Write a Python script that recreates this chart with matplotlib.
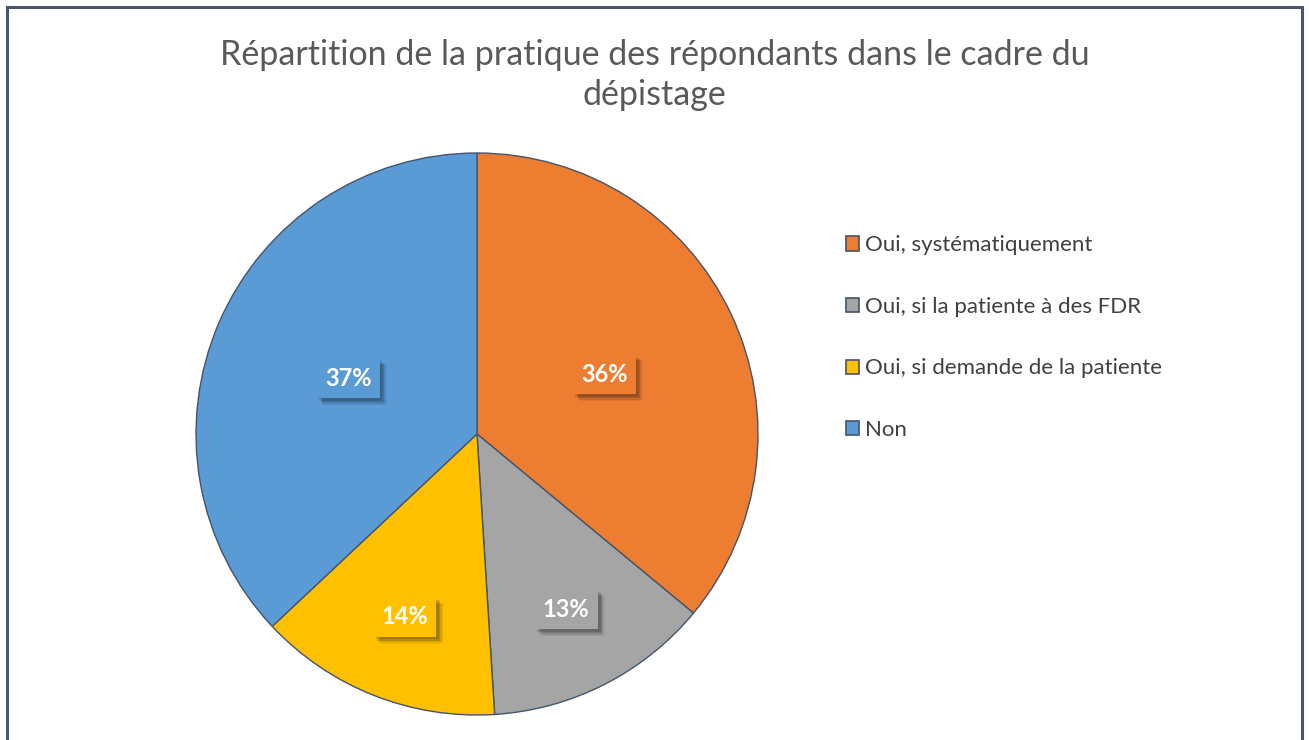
import numpy as np
import matplotlib
matplotlib.use('Agg')
import matplotlib.pyplot as plt
import matplotlib.patheffects as pe
from matplotlib.patches import Rectangle

plt.rcParams['font.family'] = ['Lato', 'DejaVu Sans']

labels = ['Oui, systématiquement', 'Oui, si la patiente à des FDR',
          'Oui, si demande de la patiente', 'Non']
values = [36, 13, 14, 37]
colors = ['#ED7D31', '#A5A5A5', '#FFC000', '#5B9BD5']
label_dist = [0.5, 0.7, 0.7, 0.5]

fig = plt.figure(figsize=(13.09, 7.40), dpi=100, facecolor='white')

# cadre
fig.patches.append(Rectangle((7 / 1309, -0.05), 1295 / 1309, 1.05 - 7 / 740,
                             transform=fig.transFigure, fill=False,
                             edgecolor='#4B5568', linewidth=2.2))

fig.text(0.5, 0.899, 'Répartition de la pratique des répondants dans le cadre du\ndépistage',
         ha='center', va='center', fontsize=24.5, color='#595959',
         linespacing=1.3)

ax = fig.add_axes([0.3644 - 0.2147, 0.4135 - 0.3797, 0.4294, 0.7594])
wedges, _ = ax.pie(values, colors=colors, startangle=90, counterclock=False,
                   wedgeprops=dict(edgecolor='#44546A', linewidth=1.0))
ax.set_xlim(-1.0, 1.0)
ax.set_ylim(-1.0, 1.0)
ax.set_aspect('equal')

# ombre floue approximée par plusieurs couches
shadow = [pe.SimplePatchShadow(offset=(o, -o), shadow_rgbFace='black', alpha=a)
          for o, a in [(5, 0.06), (4, 0.1), (3, 0.14), (2, 0.12)]]

for w, v, c, d in zip(wedges, values, colors, label_dist):
    ang = np.deg2rad((w.theta1 + w.theta2) / 2)
    t = ax.text(d * np.cos(ang), d * np.sin(ang), f'{v}%', ha='center', va='center',
                fontsize=17, fontweight='bold', color='white',
                bbox=dict(boxstyle='square,pad=0.35', facecolor=c, edgecolor='none'))
    t.get_bbox_patch().set_path_effects(shadow + [pe.Normal()])

handles = [Rectangle((0, 0), 1, 1, facecolor=c, edgecolor='#44546A', linewidth=1.2)
           for c in colors]
leg = fig.legend(handles, labels, loc='upper left', bbox_to_anchor=(0.631, 0.709),
                 frameon=False, fontsize=16, labelspacing=1.87,
                 handlelength=0.6, handleheight=0.6, handletextpad=0.25)
for txt in leg.get_texts():
    txt.set_color('#404040')

plt.savefig('out.png', dpi=100)
plt.close()
